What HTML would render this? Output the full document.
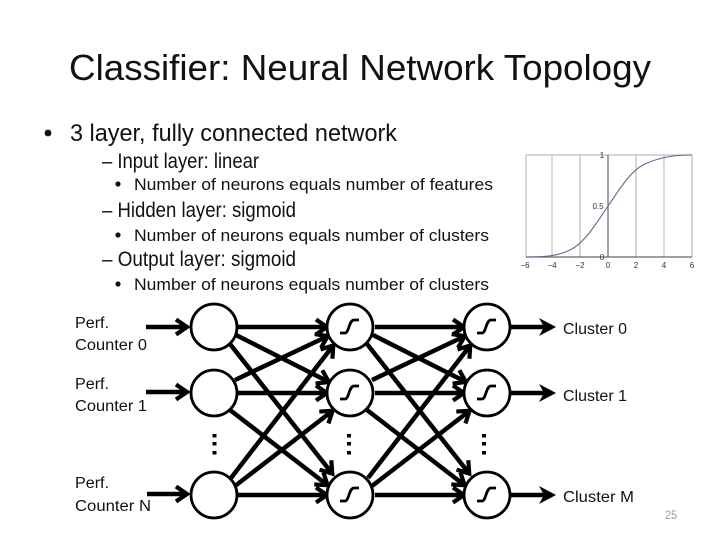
<!DOCTYPE html>
<html>
<head>
<meta charset="utf-8">
<style>
html,body{margin:0;padding:0;background:#fff}
svg{display:block}
text{font-family:"Liberation Sans",sans-serif;fill:#111}
</style>
</head>
<body>
<svg width="720" height="540" viewBox="0 0 720 540" xmlns="http://www.w3.org/2000/svg">
<defs>
<marker id="a" markerUnits="userSpaceOnUse" markerWidth="24" markerHeight="24" refX="13" refY="12" orient="auto">
<path d="M4 4.500 L15 12 L4 19.500" fill="none" stroke="#000" stroke-width="4.200"/>
</marker>
<marker id="f" markerUnits="userSpaceOnUse" markerWidth="24" markerHeight="24" refX="14" refY="12" orient="auto">
<path d="M1 3 L18 12 L1 21 L6 12 Z" fill="#000"/>
</marker>
<g id="sig"><path d="M-10 6 H-5 C-1 6 -1 -7 4 -7 H9" fill="none" stroke="#000" stroke-width="2.800"/></g>
<g id="links" fill="none" stroke="#000" stroke-width="4.500">
<path d="M238 327 L325 327" marker-end="url(#a)"/>
<path d="M236 335 L327 381" marker-end="url(#a)"/>
<path d="M230 344 L331 472" marker-end="url(#a)"/>
<path d="M235 380 L326 337" marker-end="url(#a)"/>
<path d="M238 393 L325 393" marker-end="url(#a)"/>
<path d="M230 410 L326 484" marker-end="url(#a)"/>
<path d="M231 478 L332 347" marker-end="url(#a)"/>
<path d="M235 486 L331 412" marker-end="url(#a)"/>
<path d="M238 495 L325 495" marker-end="url(#a)"/>
</g>
</defs>

<text x="69" y="80" font-size="36" textLength="582" lengthAdjust="spacingAndGlyphs">Classifier: Neural Network Topology</text>

<circle cx="48" cy="133" r="3.400" fill="#111"/>
<text x="70" y="141" font-size="24.500" textLength="327" lengthAdjust="spacingAndGlyphs">3 layer, fully connected network</text>
<text x="102" y="168" font-size="21" textLength="157" lengthAdjust="spacingAndGlyphs">– Input layer: linear</text>
<circle cx="118" cy="184" r="2.600" fill="#111"/>
<text x="134" y="190" font-size="17" textLength="359" lengthAdjust="spacingAndGlyphs">Number of neurons equals number of features</text>
<text x="102" y="217" font-size="21" textLength="194" lengthAdjust="spacingAndGlyphs">– Hidden layer: sigmoid</text>
<circle cx="118" cy="235" r="2.600" fill="#111"/>
<text x="134" y="241" font-size="17" textLength="355" lengthAdjust="spacingAndGlyphs">Number of neurons equals number of clusters</text>
<text x="102" y="266" font-size="21" textLength="194" lengthAdjust="spacingAndGlyphs">– Output layer: sigmoid</text>
<circle cx="118" cy="284" r="2.600" fill="#111"/>
<text x="134" y="290" font-size="17" textLength="355" lengthAdjust="spacingAndGlyphs">Number of neurons equals number of clusters</text>

<!-- chart -->
<g stroke="#bdbdbd" stroke-width="1.200" fill="none">
<path d="M526 155 H692"/>
<path d="M526 155 V257 M552 155 V257 M580 155 V257 M636 155 V257 M664 155 V257 M692 155 V257"/>
</g>
<path d="M608 155 V257 M526 257 H692" stroke="#666" stroke-width="1.200" fill="none"/>
<path d="M526 257 C545 257 558 256 570 250 C585 243 597 222 608 206 C620 189 630 171 645 164 C660 157 675 155 692 155" fill="none" stroke="#67678f" stroke-width="1.100"/>
<g font-size="8" text-anchor="middle">
<text x="525" y="268" style="fill:#333">−6</text>
<text x="552" y="268" style="fill:#333">−4</text>
<text x="580" y="268" style="fill:#333">−2</text>
<text x="608" y="268" style="fill:#333">0</text>
<text x="636" y="268" style="fill:#333">2</text>
<text x="664" y="268" style="fill:#333">4</text>
<text x="692" y="268" style="fill:#333">6</text>
<text x="602" y="158" style="fill:#333">1</text>
<text x="598" y="209" style="fill:#333">0.5</text>
<text x="602" y="260" style="fill:#333">0</text>
</g>

<!-- network -->
<use href="#links"/>
<use href="#links" x="137"/>
<g fill="none" stroke="#000" stroke-width="4.500">
<path d="M146 327 H185" marker-end="url(#a)"/>
<path d="M146 392 H185" marker-end="url(#a)"/>
<path d="M147 494 H185" marker-end="url(#a)"/>
<path d="M511 327 H552" marker-end="url(#f)"/>
<path d="M511 393 H552" marker-end="url(#f)"/>
<path d="M511 495 H552" marker-end="url(#f)"/>
</g>
<g fill="#fff" stroke="#000" stroke-width="2.800">
<circle cx="214" cy="327" r="23"/><circle cx="214" cy="393" r="23"/><circle cx="214" cy="495" r="23"/>
<circle cx="350" cy="327" r="23"/><circle cx="350" cy="393" r="23"/><circle cx="350" cy="495" r="23"/>
<circle cx="487" cy="327" r="23"/><circle cx="487" cy="393" r="23"/><circle cx="487" cy="495" r="23"/>
</g>
<use href="#sig" x="350" y="327"/><use href="#sig" x="350" y="393"/><use href="#sig" x="350" y="495"/>
<use href="#sig" x="487" y="327"/><use href="#sig" x="487" y="393"/><use href="#sig" x="487" y="495"/>
<g fill="#000">
<rect x="212.500" y="434" width="4" height="3.500"/><rect x="212.500" y="442" width="4" height="3.500"/><rect x="212.500" y="451" width="4" height="3.500"/>
<rect x="347" y="434" width="4" height="3.500"/><rect x="347" y="442" width="4" height="3.500"/><rect x="347" y="451" width="4" height="3.500"/>
<rect x="482" y="434" width="4" height="3.500"/><rect x="482" y="442" width="4" height="3.500"/><rect x="482" y="451" width="4" height="3.500"/>
</g>

<g font-size="15.500">
<text x="75" y="328" textLength="34" lengthAdjust="spacingAndGlyphs">Perf.</text>
<text x="75" y="350" textLength="72" lengthAdjust="spacingAndGlyphs">Counter 0</text>
<text x="75" y="389" textLength="34" lengthAdjust="spacingAndGlyphs">Perf.</text>
<text x="75" y="411" textLength="72" lengthAdjust="spacingAndGlyphs">Counter 1</text>
<text x="75" y="488" textLength="34" lengthAdjust="spacingAndGlyphs">Perf.</text>
<text x="75" y="511" textLength="76" lengthAdjust="spacingAndGlyphs">Counter N</text>
<text x="563" y="334" textLength="64" lengthAdjust="spacingAndGlyphs">Cluster 0</text>
<text x="563" y="401" textLength="64" lengthAdjust="spacingAndGlyphs">Cluster 1</text>
<text x="563" y="502" textLength="71" lengthAdjust="spacingAndGlyphs">Cluster M</text>
</g>
<text x="665" y="519" font-size="12" style="fill:#999" textLength="12" lengthAdjust="spacingAndGlyphs">25</text>
</svg>
</body>
</html>
